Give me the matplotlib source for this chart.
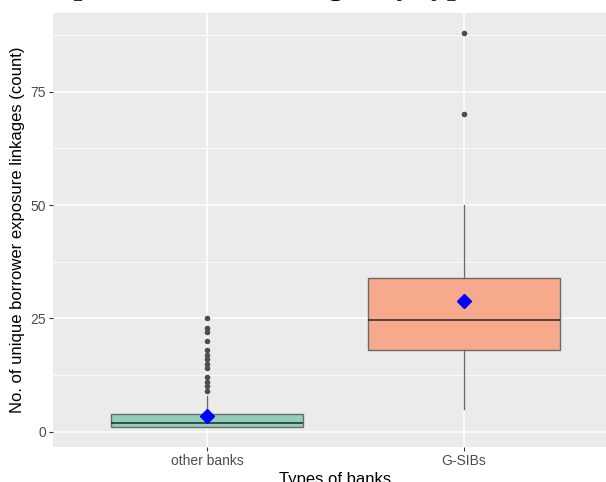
import matplotlib
matplotlib.use("Agg")
import matplotlib.pyplot as plt
from matplotlib.ticker import MultipleLocator
from matplotlib.textpath import TextPath
from matplotlib.patches import PathPatch
from matplotlib.font_manager import FontProperties
from matplotlib.transforms import IdentityTransform, Affine2D

# Summary statistics of linkage counts per bank type
categories = ["other banks", "G-SIBs"]
q1 = [1, 18]
medians = [2, 24.7]
q3 = [4, 34]
whisker_low = [1, 5]
whisker_high = [8, 50]
means = [3.5, 28.8]
outliers = [
    [9, 10, 11, 12, 14, 15, 16, 17, 18, 20, 22, 23, 25],
    [70, 88],
]
fill_colors = ["#66C2A5", "#FC8D62"]
title = "Unique borrower linkages by type"

W, H = 606, 482
fig = plt.figure(figsize=(W / 100, H / 100), dpi=100)
fig.patch.set_facecolor("white")

left, right, top, bottom = 53, 618, 13, 447
ax = fig.add_axes([left / W, (H - bottom) / H, (right - left) / W, (bottom - top) / H])
ax.set_facecolor("#EBEBEB")
for s in ax.spines.values():
    s.set_visible(False)

positions = list(range(1, len(categories) + 1))
stats = []
for i, name in enumerate(categories):
    stats.append(dict(label=name, q1=q1[i], med=medians[i], q3=q3[i],
                      whislo=whisker_low[i], whishi=whisker_high[i],
                      mean=means[i], fliers=outliers[i]))

edge = "#6B6B6B"
bp = ax.bxp(stats, positions=positions, widths=0.75, patch_artist=True,
            showmeans=False, showcaps=False,
            boxprops=dict(edgecolor=edge, linewidth=1.0),
            whiskerprops=dict(color=edge, linewidth=1.0),
            medianprops=dict(color="#262626", linewidth=1.1),
            flierprops=dict(marker="o", markersize=3.0, markerfacecolor="#4D4D4D",
                            markeredgecolor="#4D4D4D", linestyle="none"),
            zorder=3)
bg = matplotlib.colors.to_rgb("#EBEBEB")
for patch, c in zip(bp["boxes"], fill_colors):
    fc = matplotlib.colors.to_rgb(c)
    patch.set_facecolor(tuple(0.7 * a + 0.3 * b for a, b in zip(fc, bg)))

ax.plot(positions, means, linestyle="none", marker="D", markersize=7,
        color="#0000FF", zorder=5)

ax.set_xlim(0.4, 2.6)
ax.set_ylim(-3.35, 92.35)
ax.set_xticks(positions)
ax.set_xticklabels(categories)
ax.yaxis.set_major_locator(MultipleLocator(25))
ax.yaxis.set_minor_locator(MultipleLocator(12.5))

ax.grid(which="major", color="white", linewidth=1.1, zorder=0)
ax.grid(which="minor", axis="y", color="white", linewidth=0.55, zorder=0)
ax.set_axisbelow(True)

ax.tick_params(which="major", length=3, width=0.8, color="#333333",
               labelsize=10, labelcolor="#4D4D4D", pad=2)
ax.tick_params(which="minor", length=0)
for lab in ax.get_xticklabels() + ax.get_yticklabels():
    lab.set_fontfamily("Liberation Sans")

ax.set_ylabel("No. of unique borrower exposure linkages (count)",
              fontsize=12, family="Liberation Sans", color="black", labelpad=4)
ax.set_xlabel("Types of banks", fontsize=12, family="Liberation Sans",
              color="black", labelpad=3)

# Title drawn as an outline path so that it clips cleanly at the top edge
title_px = 23 * 100 / 72
tp = TextPath((0, 0), title, size=title_px,
              prop=FontProperties(family="Liberation Serif", weight="bold"))
ext = tp.get_extents()
shift = Affine2D().translate(478 - ext.x1, H + 6)
fig.add_artist(PathPatch(tp, transform=shift + IdentityTransform(),
                         facecolor="black", edgecolor="none"))

fig.savefig("out.png", dpi=100)
